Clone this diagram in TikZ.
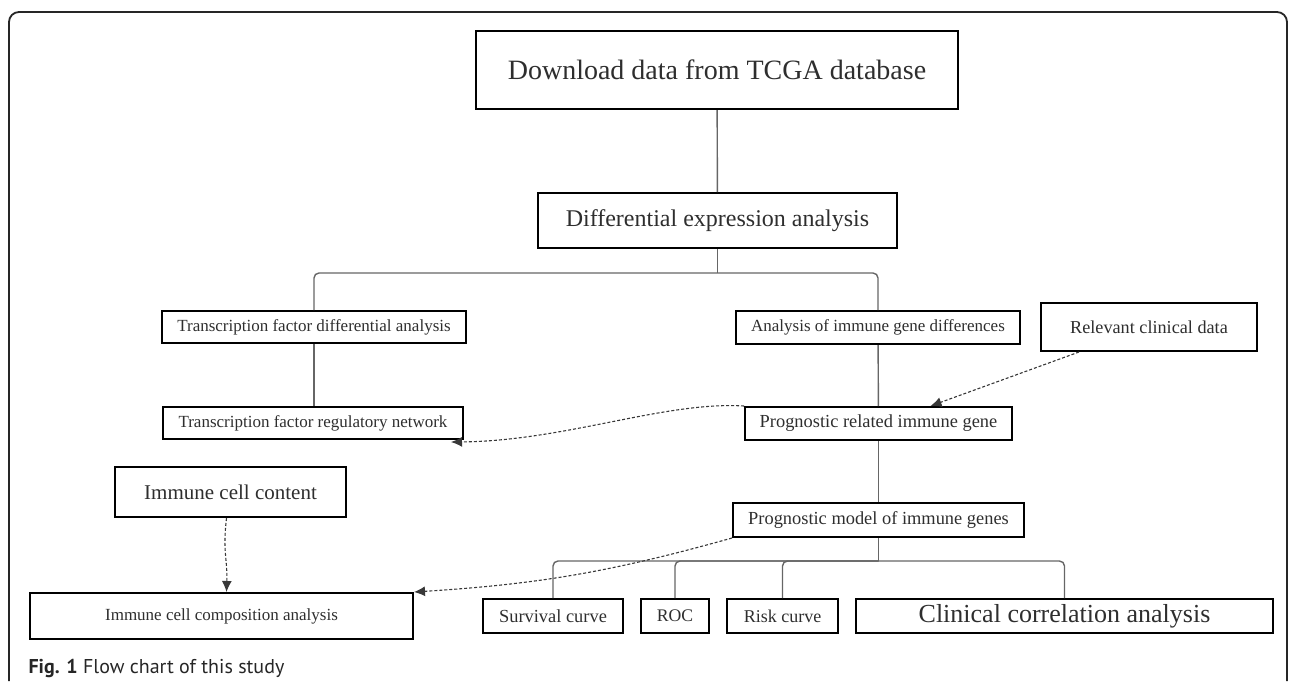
\documentclass[tikz,border=0pt]{standalone}
\usepackage{fontspec}
\setmainfont{Liberation Serif}
\newfontfamily\capfont{PT Sans}
\usepackage{tikz}
\usetikzlibrary{arrows.meta,calc,positioning}

\begin{document}
\begin{tikzpicture}[x=1pt,y=-1pt,
    font=\fontsize{17}{20}\selectfont,
    box/.style={draw=black,line width=2pt,inner sep=0pt,text=black!82},
    link/.style={draw=black!60,line width=1.4pt,rounded corners=5pt},
    dlink/.style={draw=black!78,line width=1.1pt,dash pattern=on 3pt off 2pt,
      -{Latex[length=11pt,width=10pt]}}
  ]
    \useasboundingbox (0,0) rectangle (1290,681);
    % outer frame
    \draw[black!85,line width=1.8pt,rounded corners=10pt]
      (9,681) -- (9,12) -- (1287,12) -- (1287,681);

    \node[box,minimum width=482pt,minimum height=78pt,font=\fontsize{28}{32}\selectfont]
      (dl) at (717,70) {Download data from TCGA database};
    \node[box,minimum width=359pt,minimum height=55pt,font=\fontsize{24}{28}\selectfont]
      (diff) at (717.5,220.5) {Differential expression analysis};

    \node[box,minimum width=304pt,minimum height=32pt]
      (tfdiff) at (314,327) {Transcription factor differential analysis};
    \node[box,minimum width=284pt,minimum height=33pt]
      (immdiff) at (878,327.5) {Analysis of immune gene differences};
    \node[box,minimum width=216pt,minimum height=48pt,font=\fontsize{18.2}{21}\selectfont]
      (clin) at (1149,327) {Relevant clinical data};

    \node[box,minimum width=300pt,minimum height=32pt]
      (tfnet) at (313,423) {Transcription factor regulatory network};
    \node[box,minimum width=267pt,minimum height=33pt,font=\fontsize{18.4}{21}\selectfont]
      (prog) at (878.5,423.5) {Prognostic related immune gene};

    \node[box,minimum width=231pt,minimum height=50pt,font=\fontsize{21}{25}\selectfont]
      (cellc) at (230.5,492) {Immune cell content};
    \node[box,minimum width=291pt,minimum height=34pt,font=\fontsize{18.4}{21}\selectfont]
      (model) at (878.5,520) {Prognostic model of immune genes};

    \node[box,minimum width=383pt,minimum height=46pt]
      (comp) at (221.5,616) {Immune cell composition analysis};
    \node[box,minimum width=140pt,minimum height=34pt,font=\fontsize{18.4}{21}\selectfont]
      (surv) at (553,616) {Survival curve};
    \node[box,minimum width=68pt,minimum height=34pt,font=\fontsize{17.7}{21}\selectfont]
      (roc) at (675,616) {ROC};
    \node[box,minimum width=111pt,minimum height=34pt,font=\fontsize{18}{21}\selectfont]
      (risk) at (782.5,616) {Risk curve};
    \node[box,minimum width=417pt,minimum height=34pt,font=\fontsize{26}{30}\selectfont]
      (clcorr) at (1064.5,616) {Clinical correlation analysis};

    % tree lines
    \coordinate (split1) at (717.5,273);
    \coordinate (split2) at (878.5,561);
    \draw[link] (dl) -- (diff);
    \draw[link] (diff.south) -- (split1);
    \draw[link] (tfdiff.north) |- (split1) -| (immdiff.north);
    \draw[link] (tfdiff.south) -- (tfdiff.south |- tfnet.north);
    \draw[link] (immdiff) -- (prog);
    \draw[link] (prog) -- (model);
    \draw[link] (model.south) -- (split2);
    \draw[link] (surv.north) |- (split2) -| (clcorr.north);
    \draw[link] (roc.north) |- (split2);
    \draw[link] (risk.north) |- (split2);

    % dashed links
    \draw[dlink] ($(clin.south west)+(39,0)$) -- ($(prog.north)+(52,0)$);
    \draw[dlink] (prog.north west) .. controls (665,401) and (565,441) .. ($(tfnet.south east)+(-13,2)$);
    \draw[dlink] (model.south west) to[bend left=6] (comp.north east);
    \draw[dlink] ($(cellc.south)+(-4,0)$) .. controls +(-4,35) and +(1,-35) .. ($(comp.north)+(5,0)$);

    \node[anchor=base west,font=\capfont\fontsize{20}{24}\selectfont,text=black!85]
      (cap) at (25,673) {\textbf{Fig. 1} Flow chart of this study};
  \end{tikzpicture}
\end{document}
